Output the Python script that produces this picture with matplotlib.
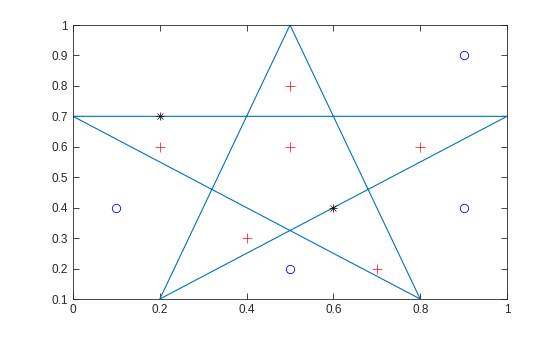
import matplotlib
matplotlib.use("Agg")
import matplotlib.pyplot as plt

star_x = [0, 1, 0.2, 0.5, 0.8, 0]
star_y = [0.7, 0.7, 0.1, 1.0, 0.1, 0.7]
plus_x = [0.5, 0.2, 0.5, 0.8, 0.4, 0.7]
plus_y = [0.8, 0.6, 0.6, 0.6, 0.3, 0.2]
circ_x = [0.9, 0.1, 0.9, 0.5]
circ_y = [0.9, 0.4, 0.4, 0.2]
ast_x = [0.2, 0.6]
ast_y = [0.7, 0.4]
xticks = [0, 0.2, 0.4, 0.6, 0.8, 1]
xticklabels = ["0", "0.2", "0.4", "0.6", "0.8", "1"]
yticks = [0.1, 0.2, 0.3, 0.4, 0.5, 0.6, 0.7, 0.8, 0.9, 1]
yticklabels = ["0.1", "0.2", "0.3", "0.4", "0.5", "0.6", "0.7", "0.8", "0.9", "1"]

plt.rcParams['font.family'] = ['Liberation Sans', 'DejaVu Sans']
fig = plt.figure(figsize=(5.6, 3.37), dpi=100)
ax = fig.add_axes([73/560, 38/337, 434/560, 274/337])
ax.plot(star_x, star_y, color='#0072BD', lw=0.8)
ax.plot(plus_x, plus_y, linestyle='none', marker='+', color='red', ms=7, mew=0.5, zorder=3)
ax.plot(circ_x, circ_y, linestyle='none', marker='o', mfc='none', mec='blue', ms=6, mew=0.6)
for m in ['+', 'x']:
    ax.plot(ast_x, ast_y, linestyle='none', marker=m, color='black', ms=6 if m == '+' else 5, mew=0.5)
ax.set_xlim(0, 1)
ax.set_ylim(0.1, 1)
ax.set_xticks(xticks)
ax.set_xticklabels(xticklabels)
ax.set_yticks(yticks)
ax.set_yticklabels(yticklabels)
ax.tick_params(direction='in', top=True, right=True, labelsize=8.5, length=4, width=0.6, color='#262626', labelcolor='#262626')
for s in ax.spines.values():
    s.set_linewidth(0.6)
    s.set_color('#262626')
fig.savefig('out.png', dpi=100)
